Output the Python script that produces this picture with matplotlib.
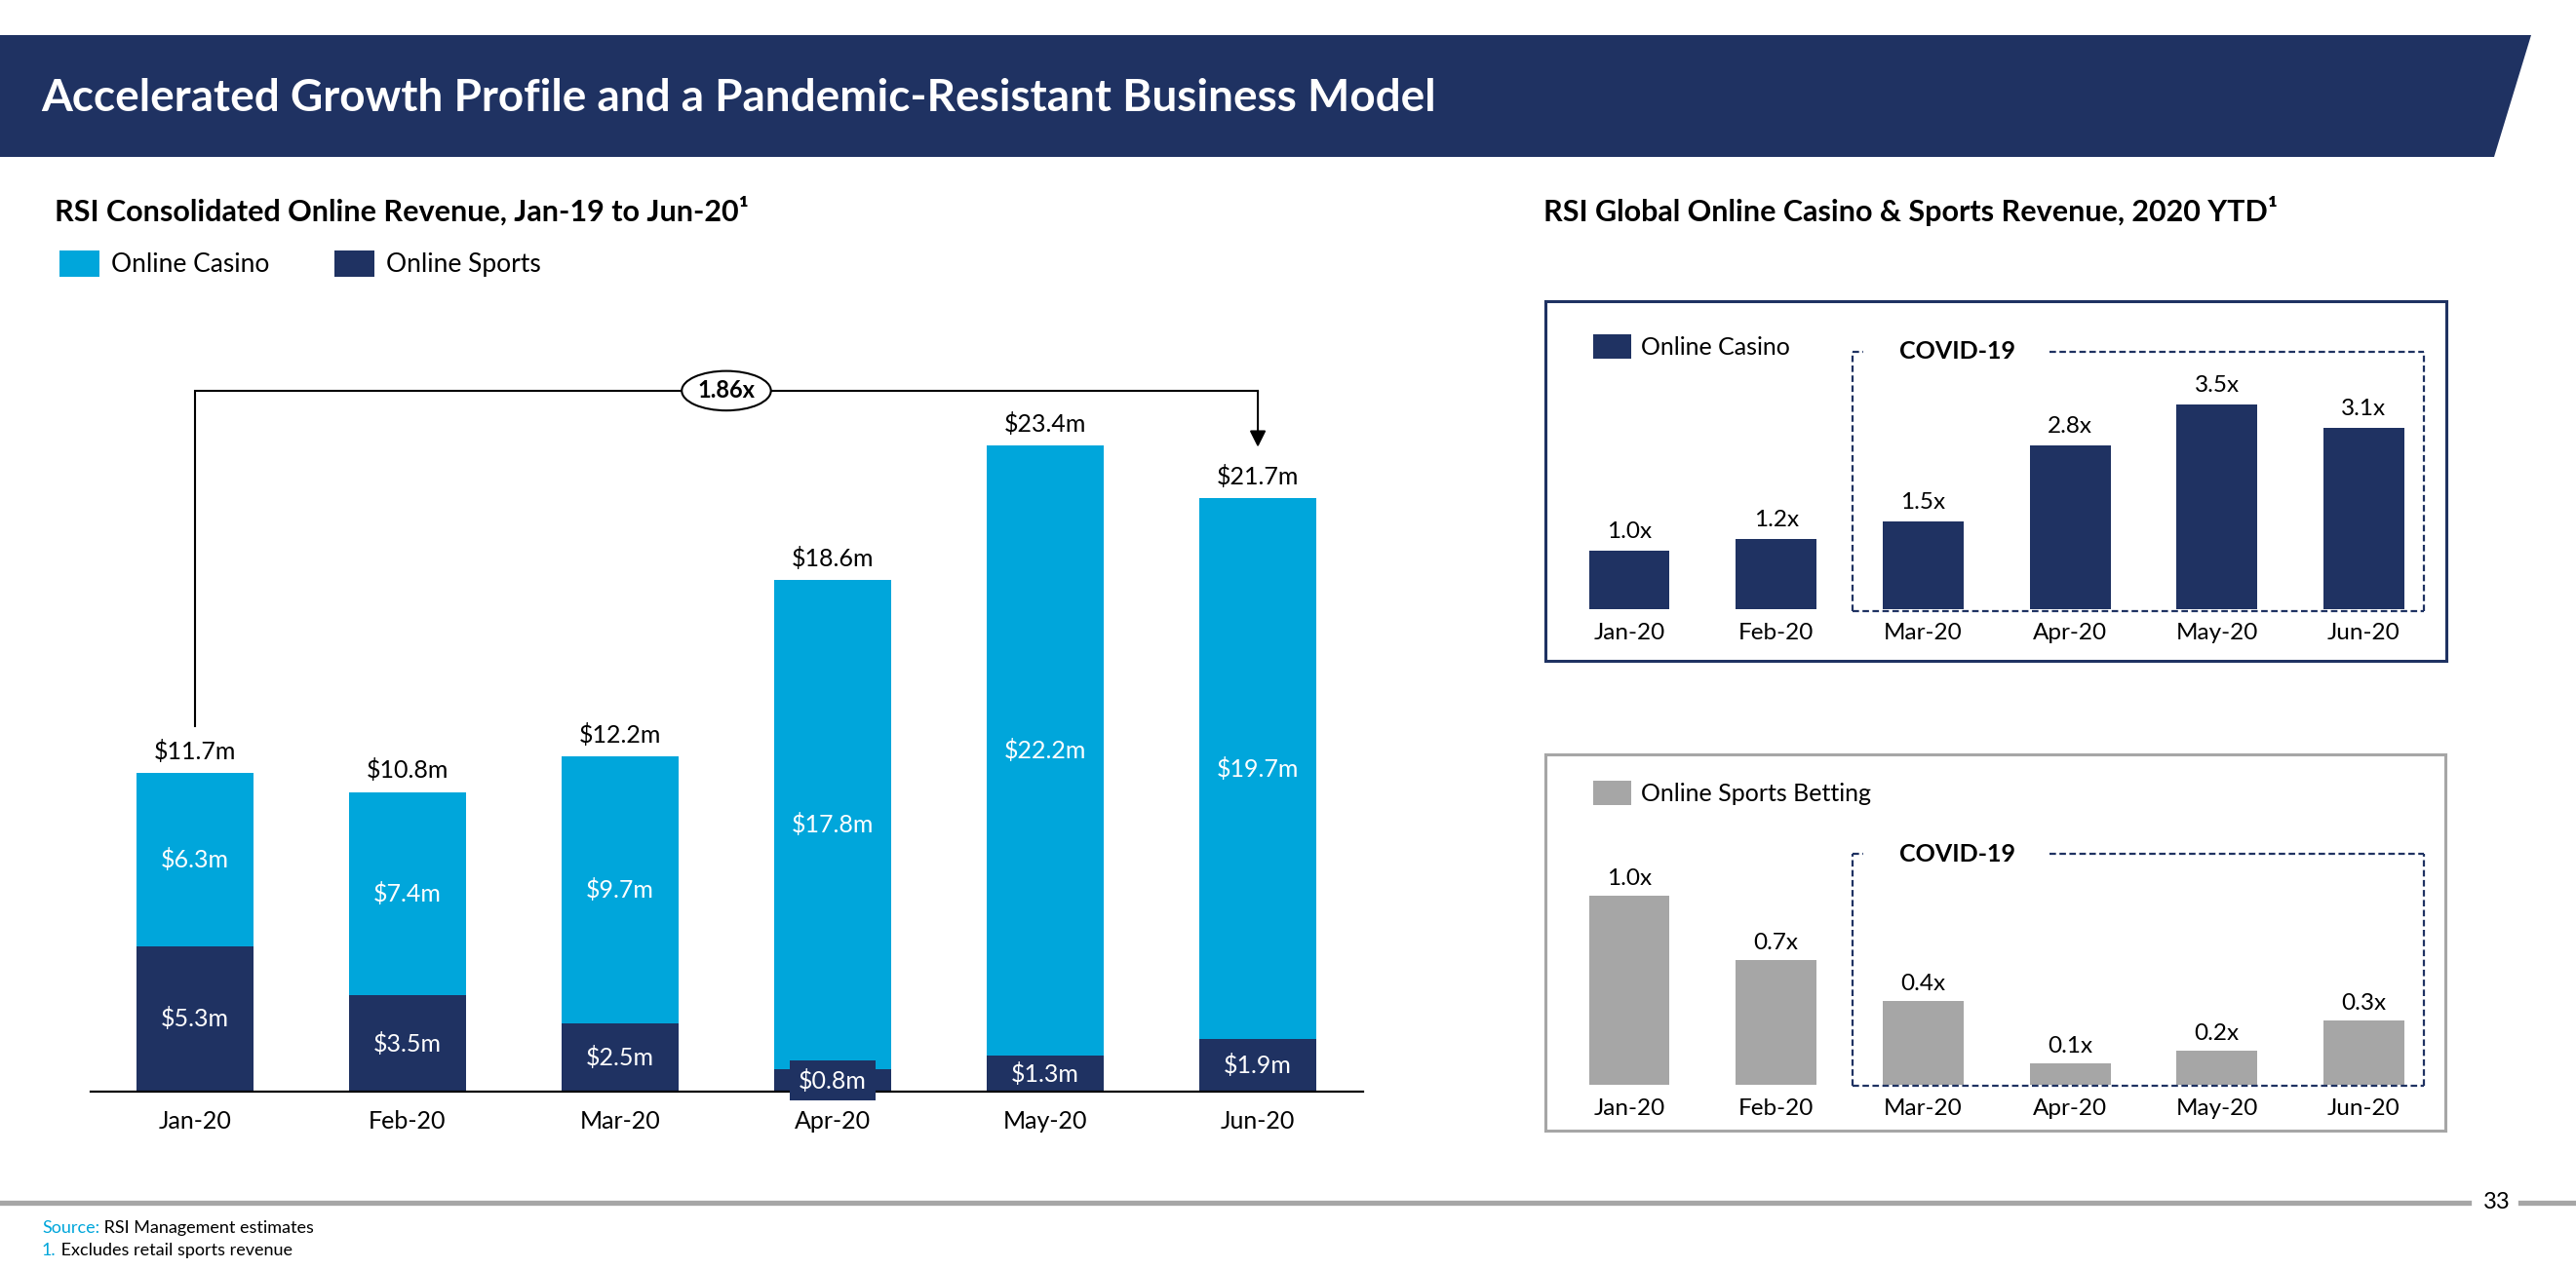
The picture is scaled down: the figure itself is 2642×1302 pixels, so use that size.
import matplotlib
matplotlib.use('Agg')
import matplotlib.pyplot as plt
from matplotlib.patches import Polygon
from matplotlib.lines import Line2D
import numpy as np

plt.rcParams['font.family'] = ['Lato', 'DejaVu Sans']

# ---------------- data ----------------
months = ['Jan-20', 'Feb-20', 'Mar-20', 'Apr-20', 'May-20', 'Jun-20']
casino_rev = [6.3, 7.4, 9.7, 17.8, 22.2, 19.7]
sports_rev = [5.3, 3.5, 2.5, 0.8, 1.3, 1.9]
total_rev = [11.7, 10.8, 12.2, 18.6, 23.4, 21.7]
growth_label = '1.86x'
casino_index = [1.0, 1.2, 1.5, 2.8, 3.5, 3.1]
sports_index = [1.0, 0.66, 0.44, 0.11, 0.18, 0.34]
covid_start = 2

title = 'Accelerated Growth Profile and a Pandemic-Resistant Business Model'
left_title = 'RSI Consolidated Online Revenue, Jan-19 to Jun-20\u00b9'
right_title = 'RSI Global Online Casino & Sports Revenue, 2020 YTD\u00b9'

# ---------------- style ----------------
W, H = 2642, 1302
NAVY = '#1F3262'
CYAN = '#00A6DB'
GREY = '#A6A6A6'

fig = plt.figure(figsize=(W / 100, H / 100), dpi=100)


def fpt(x, y):
    return (x / W, 1 - y / H)


def ax_px(x0, y0, x1, y1):
    return fig.add_axes([x0 / W, 1 - y1 / H, (x1 - x0) / W, (y1 - y0) / H])


# banner
fig.patches.append(Polygon([fpt(0, 36), fpt(2596, 36), fpt(2558, 161), fpt(0, 161)],
                           closed=True, transform=fig.transFigure,
                           facecolor=NAVY, edgecolor='none'))
fig.text(*fpt(42, 101), title, color='white', fontsize=33, fontweight='bold',
         ha='left', va='center')

fig.text(*fpt(56, 216), left_title, fontsize=22, fontweight='bold', ha='left', va='center')
fig.text(*fpt(1583, 216), right_title, fontsize=22, fontweight='bold', ha='left', va='center')

# ---------------- left stacked chart ----------------
ax = ax_px(93, 358.6, 1398, 1120)
x = np.arange(len(months))
bw = 0.55
b_sports = ax.bar(x, sports_rev, bw, color=NAVY, label='Online Sports', zorder=2)
b_casino = ax.bar(x, casino_rev, bw, bottom=sports_rev, color=CYAN, label='Online Casino', zorder=2)
ax.set_xlim(-0.49, 5.495)
ax.set_ylim(0, 27)
for s in ['left', 'right', 'top']:
    ax.spines[s].set_visible(False)
ax.spines['bottom'].set_color('black')
ax.spines['bottom'].set_linewidth(1.6)
ax.spines['bottom'].set_zorder(3)
ax.set_yticks([])
ax.set_xticks(x)
ax.set_xticklabels(months, fontsize=18)
ax.tick_params(axis='x', length=0, pad=14)

for i in range(len(months)):
    s = sports_rev[i]
    c = casino_rev[i]
    kw = dict(ha='center', va='center', color='white', fontsize=18, zorder=4)
    if s < 1:
        kw['bbox'] = dict(boxstyle='square,pad=0.35', fc=NAVY, ec='none')
    ax.text(i, s / 2, f'${s:.1f}m', **kw)
    ax.text(i, s + c / 2, f'${c:.1f}m', ha='center', va='center', color='white', fontsize=18, zorder=4)
    ax.annotate(f'${total_rev[i]:.1f}m', (i, s + c), xytext=(0, 16), textcoords='offset points',
                ha='center', va='center', fontsize=18)

# growth annotation
y_line = max(total_rev) + 2.1
ax.plot([0, 0, len(months) - 1], [total_rev[0] + 1.6, y_line, y_line], color='black', lw=1.5,
        solid_joinstyle='miter', zorder=3)
ax.annotate('', xy=(len(months) - 1, total_rev[-1] + 1.75), xytext=(len(months) - 1, y_line),
            arrowprops=dict(arrowstyle='-|>', color='black', lw=1.5, mutation_scale=25,
                            shrinkA=0, shrinkB=0), zorder=3)
ax.text((len(months) - 1) / 2, y_line, growth_label, ha='center', va='center', fontsize=17,
        fontweight='bold', zorder=5,
        bbox=dict(boxstyle='ellipse,pad=0.12', fc='white', ec='black', lw=1.5))

fig.legend(handles=[b_casino, b_sports], labels=['Online Casino', 'Online Sports'],
           loc='upper left', bbox_to_anchor=fpt(61, 257), bbox_transform=fig.transFigure,
           ncol=2, frameon=False, fontsize=19, handlelength=1.54, handleheight=1.19,
           handletextpad=0.46, columnspacing=2.55, borderpad=0, borderaxespad=0)


# ---------------- right panels ----------------
def panel(box, baseline, unit, values, color, edge, label, leg_y, off):
    x0, y0, x1, y1 = box
    a = ax_px(x0, y0, x1, y1)
    per = 150.7
    a.set_xlim(-(1671 - x0) / per, -(1671 - x0) / per + (x1 - x0) / per)
    a.set_ylim(-(y1 - baseline) / unit, (baseline - y0) / unit)
    a.set_xticks([])
    a.set_yticks([])
    for s in a.spines.values():
        s.set_color(edge)
        s.set_linewidth(2.2)
    bars = a.bar(x, values, bw, color=color, label=label, zorder=2)
    for i, v in enumerate(values):
        a.annotate(f'{v:.1f}x', (i, v), xytext=(0, off), textcoords='offset points',
                   ha='center', va='center', fontsize=17.5)
        a.annotate(months[i], (i, 0), xytext=(0, -18), textcoords='offset points',
                   ha='center', va='center', fontsize=17.5)
    a.legend(handles=[bars], labels=[label], loc='upper left', bbox_to_anchor=fpt(1634, leg_y),
             bbox_transform=fig.transFigure, frameon=False, fontsize=18,
             handlelength=1.56, handleheight=1.16, handletextpad=0.42, borderpad=0, borderaxespad=0)
    return a


def covid_box(a, top_val, baseline_px, unit):
    L = covid_start - 0.48
    R = len(months) - 1 + 0.41
    bot = -1.5 / unit
    dash = dict(color=NAVY, lw=1.6, linestyle=(0, (3, 1.6)), zorder=3)
    a.plot([L, L], [bot, top_val], **dash)
    a.plot([L, R], [bot, bot], **dash)
    a.plot([R, R], [bot, top_val], **dash)
    a.plot([L, L + 0.07], [top_val, top_val], **dash)
    a.plot([L + 1.34, R], [top_val, top_val], **dash)
    a.text(L + 0.71, top_val, 'COVID-19', ha='center', va='center', fontsize=18,
           fontweight='bold', zorder=4)


a1 = panel((1585, 309, 2509, 678), 625, 60.0, casino_index, NAVY, NAVY, 'Online Casino', 343, 14)
covid_box(a1, (625 - 361) / 60.0, 625, 60.0)
a2 = panel((1585, 774, 2508, 1160), 1112.7, 194.0, sports_index, GREY, GREY, 'Online Sports Betting', 801, 12.5)
covid_box(a2, (1112.7 - 876) / 194.0, 1112.7, 194.0)

# ---------------- footer ----------------
fig.add_artist(Line2D([0, 2532 / W], [1 - 1234 / H] * 2, transform=fig.transFigure, color=GREY, lw=3.8))
fig.add_artist(Line2D([2585 / W, 1], [1 - 1234 / H] * 2, transform=fig.transFigure, color=GREY, lw=3.8))
fig.text(*fpt(2561, 1234), '33', fontsize=17, ha='center', va='center')

renderer = fig.canvas.get_renderer()
for yy, pre, rest in [(1260, 'Source:', ' RSI Management estimates'), (1283, '1.', ' Excludes retail sports revenue')]:
    t = fig.text(*fpt(43, yy), pre, color=CYAN, fontsize=13, ha='left', va='center')
    ext = t.get_window_extent(renderer)
    fig.text(ext.x1 / W, 1 - yy / H, rest, color='black', fontsize=13, ha='left', va='center')

fig.savefig('out.png', dpi=100)
